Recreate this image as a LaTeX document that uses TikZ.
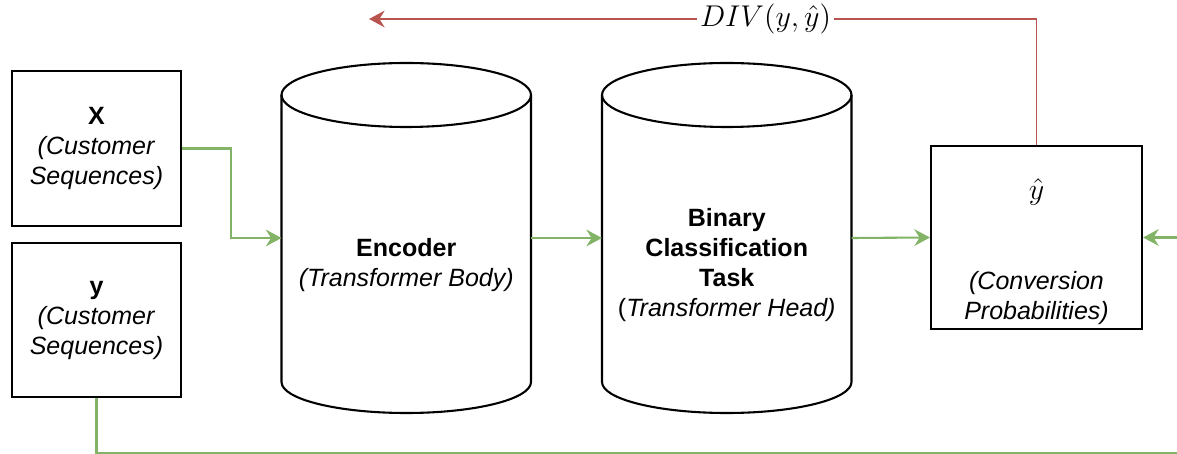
\documentclass[tikz,border=0pt]{standalone}
\usepackage{fontspec}
\setmainfont{Liberation Sans}
\usetikzlibrary{arrows.meta}

% one drawing unit
\newlength\pxu
\setlength\pxu{0.48pt}

\definecolor{flowgreen}{HTML}{82B366}
\definecolor{lossred}{HTML}{B85450}

\begin{document}
\begin{tikzpicture}[x=0.48pt, y=-0.48pt,
  txt/.style={font=\fontsize{12}{14.4}\selectfont, align=center, inner sep=0pt},
  box/.style={txt, draw=black, line width=1pt, rectangle},
  slot/.style={draw=none, rectangle, inner sep=0pt, outer sep=0pt},
  cylline/.style={draw=black, line width=1pt},
  mathlbl/.style={font=\fontsize{14.4}{17}\selectfont, inner sep=0pt},
  tip/.style={-{Stealth[length=7.5pt, width=8pt, inset=2.5pt]}},
  flow/.style={tip, draw=flowgreen, line width=1pt},
  feed/.style={draw=flowgreen, line width=1pt},
  loss/.style={tip, draw=lossred, line width=0.9pt},
  divlbl/.style={mathlbl, fill=white, inner sep=1.5pt}
]
\useasboundingbox (0,0) rectangle (1177,454);

% input boxes
\node[box, minimum width=169\pxu, minimum height=155\pxu] (xbox) at (96.5,148.5)
  {\textbf{X}\\\textit{(Customer}\\\textit{Sequences)}};
\node[box, minimum width=169\pxu, minimum height=154\pxu] (ybox) at (96.5,320)
  {\textbf{y}\\\textit{(Customer}\\\textit{Sequences)}};

% cylinder slots
\node[slot, minimum width=249.5\pxu, minimum height=350\pxu] (enc) at (406.25,238) {};
\node[slot, minimum width=249.5\pxu, minimum height=350\pxu] (cls) at (726.75,238) {};

\foreach \c in {enc, cls} {
  \draw[cylline] ([yshift=-32\pxu]\c.north) ellipse[x radius=124.75, y radius=32];
  \draw[cylline] ([yshift=-32\pxu]\c.north west) -- ([yshift=31\pxu]\c.south west)
    arc[start angle=180, end angle=0, x radius=124.75, y radius=31]
    -- ([yshift=-32\pxu]\c.north east);
}

\node[txt] (enctext) at (406.25,265)
  {\textbf{Encoder}\\\textit{(Transformer Body)}};
\node[txt] (clstext) at (726.75,265)
  {\textbf{Binary}\\\textbf{Classification}\\\textbf{Task}\\(\textit{Transformer Head)}};

% output box
\node[box, minimum width=211\pxu, minimum height=183\pxu] (yhat) at (1036.5,237.5) {};
\node[mathlbl] (yhatsym) at (1036.5,192) {$\hat{y}$};
\node[txt] (yhattext) at (1036.5,298.5) {\textit{(Conversion}\\\textit{Probabilities)}};

% free ends
\coordinate (divend) at (369,19);
\coordinate (yin) at (1177,237.5);
\coordinate (ybend) at (1177,453);

% connectors
\draw[flow] (xbox.east) -- ++(49,0) |- (enc.west);
\draw[flow] (enc.east) -- (cls.west);
\draw[flow] (cls.east) -- (yhat.west);
\draw[flow] (yin) -- (yhat.east);
\draw[feed] (ybox.south) |- (ybend);
\draw[loss] (yhat.north) |- node[pos=0.703, divlbl] (div) {$DIV(y,\hat{y})$} (divend);
\end{tikzpicture}
\end{document}
